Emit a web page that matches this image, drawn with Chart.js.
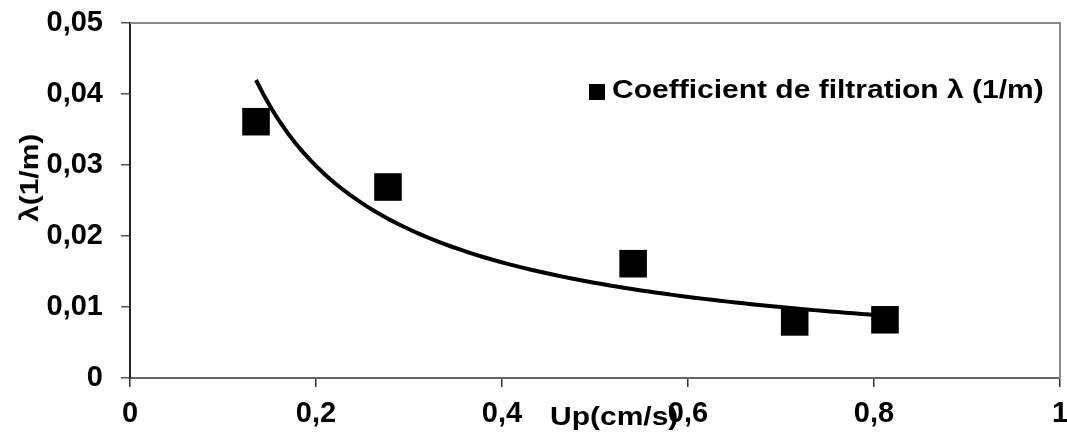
<!DOCTYPE html>
<html>
<head>
<meta charset="utf-8">
<script src="https://cdn.jsdelivr.net/npm/chart.js@4/dist/chart.umd.min.js"></script>
<style>
  body { margin: 0; background: #fff; }
  #wrap { width: 1067px; height: 439px; }
</style>
</head>
<body>
<div id="wrap"><canvas id="myChart" width="1067" height="439"></canvas></div>
<script>
// measured points: Up (cm/s) vs filtration coefficient lambda (1/m)
const upValues = [0.1355, 0.2774, 0.541, 0.7147, 0.8118];
const lambdaValues = [0.0361, 0.0269, 0.0161, 0.0079, 0.0082];
const xTicks = [0, 0.2, 0.4, 0.6, 0.8, 1];
const yTicks = [0, 0.01, 0.02, 0.03, 0.04, 0.05];
const seriesLabel = 'Coefficient de filtration λ (1/m)';
const xTitle = 'Up(cm/s)';
const yTitle = 'λ(1/m)';

const FONT = "'Liberation Sans', Arial, sans-serif";

// power trend line y = a * x^b, least squares on logs (like the spreadsheet trendline)
function powerFit(xs, ys) {
    const lx = xs.map(Math.log), ly = ys.map(Math.log);
    const n = xs.length;
    const mx = lx.reduce((s, v) => s + v, 0) / n;
    const my = ly.reduce((s, v) => s + v, 0) / n;
    let sxy = 0, sxx = 0;
    for (let i = 0; i < n; i++) {
        sxy += (lx[i] - mx) * (ly[i] - my);
        sxx += (lx[i] - mx) * (lx[i] - mx);
    }
    const b = sxy / sxx;
    const a = Math.exp(my - b * mx);
    return { a: a, b: b };
}

const fit = powerFit(upValues, lambdaValues);
const trend = [];
const xMin = Math.min(...upValues), xMax = Math.max(...upValues);
for (let i = 0; i <= 80; i++) {
    const x = xMin + (xMax - xMin) * i / 80;
    trend.push({ x: x, y: fit.a * Math.pow(x, fit.b) });
}

function fmt(v, digits) {
    if (v === 0) return '0';
    if (v === 1) return '1';
    return v.toFixed(digits).replace('.', ',');
}

// legend, titles and the grey top/right frame
const extras = {
    id: 'extras',
    afterDraw(chart) {
        const ctx = chart.ctx;
        const area = chart.chartArea;
        ctx.save();
        ctx.strokeStyle = '#888';
        ctx.lineWidth = 2;
        ctx.beginPath();
        ctx.moveTo(area.left, area.top);
        ctx.lineTo(area.right, area.top);
        ctx.lineTo(area.right, area.bottom);
        ctx.stroke();

        ctx.fillStyle = '#000';
        ctx.fillRect(589, 84, 16, 16);
        ctx.font = 'bold 25px ' + FONT;
        ctx.textBaseline = 'alphabetic';
        ctx.textAlign = 'left';

        ctx.save();
        ctx.translate(612, 98);
        ctx.scale(1.2, 1);
        ctx.fillText(seriesLabel, 0, 0);
        ctx.restore();

        ctx.save();
        ctx.translate(550, 425);
        ctx.scale(1.2, 1);
        ctx.fillText(xTitle, 0, 0);
        ctx.restore();

        ctx.save();
        ctx.translate(38, 222);
        ctx.rotate(-Math.PI / 2);
        ctx.scale(1.2, 1);
        ctx.fillText(yTitle, 0, 0);
        ctx.restore();

        ctx.restore();
    }
};

const data = {
    datasets: [{
        label: 'trend',
        type: 'line',
        data: trend,
        borderColor: '#000',
        borderWidth: 4,
        pointRadius: 0,
        fill: false,
        tension: 0,
        order: 0
    }, {
        label: seriesLabel,
        type: 'scatter',
        data: upValues.map((x, i) => ({ x: x, y: lambdaValues[i] })),
        pointStyle: 'rect',
        pointRadius: 19.5,
        backgroundColor: '#000',
        borderColor: '#000',
        borderWidth: 0,
        order: 1
    }]
};

const config = {
    type: 'scatter',
    data: data,
    options: {
        responsive: false,
        animation: false,
        layout: { autoPadding: false, padding: { top: 23, right: 7, left: 0, bottom: 0 } },
        plugins: {
            legend: { display: false },
            tooltip: { enabled: false }
        },
        scales: {
            x: {
                type: 'linear',
                min: 0,
                max: 1,
                afterBuildTicks: scale => { scale.ticks = xTicks.map(v => ({ value: v })); },
                afterFit: scale => {
                    scale.height = 61;
                    scale.paddingLeft = 0;
                    scale.paddingRight = 0;
                },
                ticks: {
                    color: '#000',
                    font: { family: FONT, size: 29, weight: 'bold' },
                    padding: 10,
                    maxRotation: 0,
                    callback: v => fmt(v, 1)
                },
                grid: {
                    drawOnChartArea: false,
                    drawTicks: true,
                    tickLength: 9,
                    tickColor: '#333',
                    lineWidth: 1.5
                },
                border: { color: '#666', width: 2 }
            },
            y: {
                type: 'linear',
                min: 0,
                max: 0.05,
                afterBuildTicks: scale => { scale.ticks = yTicks.map(v => ({ value: v })); },
                afterFit: scale => {
                    scale.width = 130;
                    scale.paddingTop = 0;
                    scale.paddingBottom = 0;
                },
                ticks: {
                    color: '#000',
                    font: { family: FONT, size: 29, weight: 'bold' },
                    padding: 18,
                    callback: v => fmt(v, 2)
                },
                grid: {
                    drawOnChartArea: false,
                    drawTicks: true,
                    tickLength: 9,
                    tickColor: '#555',
                    lineWidth: 1.5
                },
                border: { color: '#222', width: 2 }
            }
        }
    },
    plugins: [extras]
};

const ctx = document.getElementById('myChart');
const chart = new Chart(ctx, config);
</script>
</body>
</html>
